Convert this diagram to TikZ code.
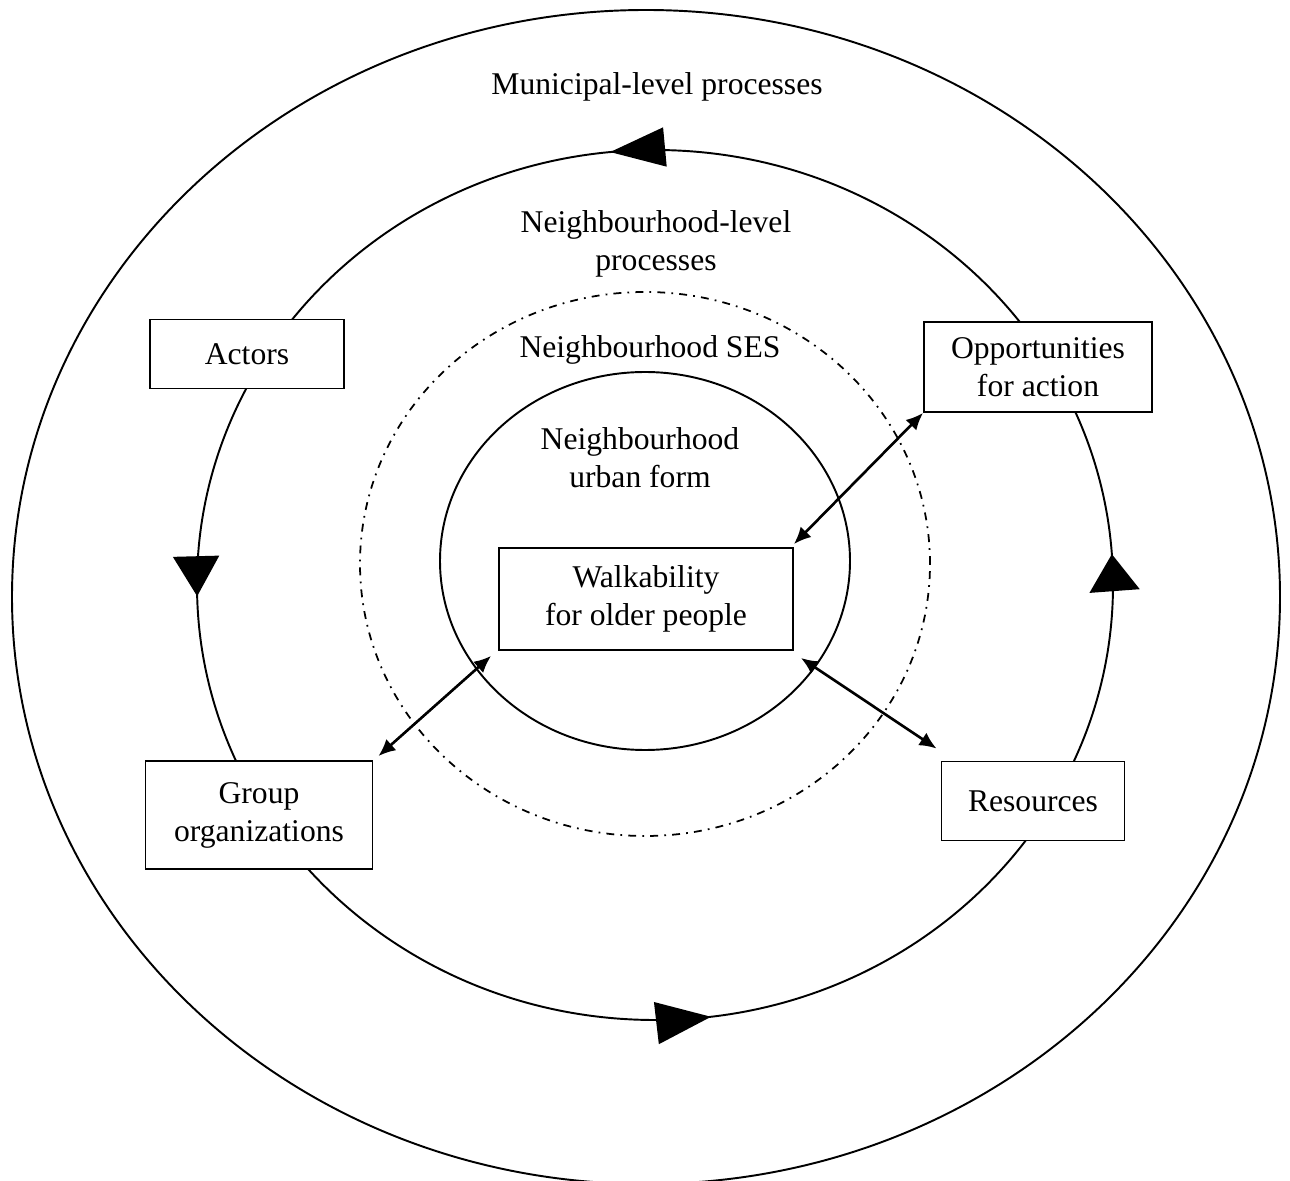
\documentclass[tikz,border=0pt]{standalone}
\usepackage{fontspec}
\setmainfont{Liberation Serif}
\usetikzlibrary{arrows.meta, decorations.markings, positioning}

\begin{document}
\begin{tikzpicture}[font=\fontsize{18}{21.6}\selectfont,
        box/.style={rectangle, draw, line width=1.1pt, fill=white, align=center},
        link/.style={{Latex[length=0.34cm,width=0.3cm]}-{Latex[length=0.34cm,width=0.3cm]}, line width=1.5pt},
        flow/.style={decoration={markings,
            mark=at position 0.011 with {\arrow{Triangle[length=0.74cm,width=1.0cm]}},
            mark=at position 0.266 with {\arrow{Triangle[length=1.1cm,width=0.78cm]}},
            mark=at position 0.504 with {\arrow{Triangle[length=0.8cm,width=0.92cm]}},
            mark=at position 0.770 with {\arrow{Triangle[length=1.1cm,width=0.84cm]}}},
            postaction={decorate}}]
        \useasboundingbox (0,0) rectangle (25.8,23.6);

        % levels
        \draw[line width=1.1pt] (12.92,11.66) ellipse [x radius=12.68, y radius=11.74];
        \draw[line width=1.1pt, flow] (13.10,11.9) ellipse [x radius=9.16, y radius=8.7];
        \draw[line width=1pt, dash pattern=on 4.5pt off 3.5pt on 1pt off 3.5pt] (12.9,12.32) ellipse [x radius=5.7, y radius=5.44];
        \draw[line width=1.1pt] (12.9,12.38) ellipse [x radius=4.1, y radius=3.78];

        \node at (13.14,21.86) (municipal) {Municipal-level processes};
        \node at (13.12,18.72) [align=center] (neighbourhood) {Neighbourhood-level\\processes};
        \node at (13.0,16.6) (ses) {Neighbourhood SES};
        \node at (12.8,14.44) [align=center] (urban) {Neighbourhood\\urban form};

        % boxes
        \node at (4.94,16.52) [box, minimum width=3.88cm, minimum height=1.38cm] (actors) {Actors};
        \node at (20.76,16.26) [box, minimum width=4.56cm, minimum height=1.8cm] (opp) {Opportunities\\for action};
        \node at (12.92,11.62) [box, minimum width=5.88cm, minimum height=2.04cm] (walk) {Walkability\\for older people};
        \node at (5.18,7.3) [box, minimum width=4.54cm, minimum height=2.16cm] (group) {Group\\organizations};
        \node at (20.66,7.58) [box, minimum width=3.66cm, minimum height=1.58cm] (res) {Resources};

        \draw[link] ([shift={(0,0.06)}]walk.north east) -- (opp.south west);
        \draw[link] ([shift={(-0.14,-0.1)}]walk.south west) -- ([shift={(0.1,0.08)}]group.north east);
        \draw[link] ([shift={(0.14,-0.14)}]walk.south east) -- ([shift={(-0.08,0.24)}]res.north west);
\end{tikzpicture}
\end{document}
